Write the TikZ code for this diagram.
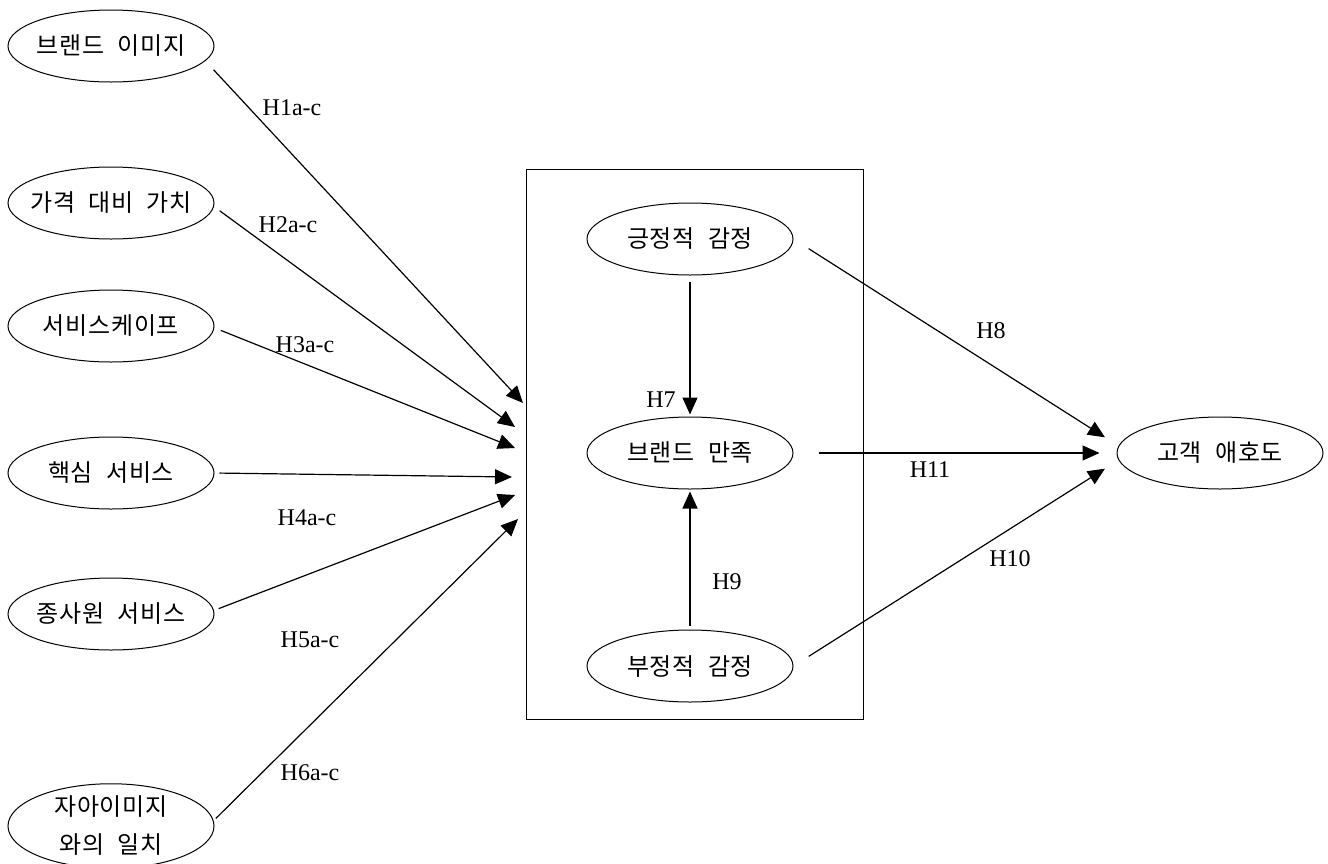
\documentclass[tikz,border=0pt]{standalone}
\usepackage{fontspec}
\setmainfont{Liberation Serif}
\newfontfamily\kr[WordSpace=2.2,LetterSpace=3]{Noto Sans CJK KR}
\usetikzlibrary{arrows.meta,shapes.geometric}
\begin{document}
\begin{tikzpicture}[x=1pt,y=-1pt,
  var/.style={ellipse,draw,line width=1pt,minimum width=206pt,minimum height=72pt,inner ysep=0pt,inner xsep=-12pt,
    font=\kr\fontsize{24}{38}\selectfont,align=center},
  arr/.style={line width=1.2pt,-{Triangle[length=17pt,width=15pt]}},
  hl/.style={font=\fontsize{24}{26}\selectfont,inner sep=0pt}]
\useasboundingbox (0,0) rectangle (1328,863);
% box
\node[draw,line width=0.8pt,minimum width=337pt,minimum height=550pt,inner sep=0pt] (box) at (694.5,444) {};
% left variables
\node[var] (a1) at (111,46) {브랜드 이미지};
\node[var] (a2) at (111,203) {가격 대비 가치};
\node[var] (a3) at (111,326) {서비스케이프};
\node[var] (a4) at (111,473) {핵심 서비스};
\node[var] (a5) at (111,614) {종사원 서비스};
\node[var] (a6) at (111,826) {자아이미지\\와의 일치};
% centre variables
\node[var] (c1) at (690,239) {긍정적 감정};
\node[var] (c2) at (690,453) {브랜드 만족};
\node[var] (c3) at (690,666) {부정적 감정};
% outcome
\node[var] (r) at (1220,453) {고객 애호도};
% arrow tips at the box
\coordinate (t1) at (523,403);
\coordinate (t2) at (515,427);
\coordinate (t3) at (515,448);
\coordinate (t4) at (512,477);
\coordinate (t5) at (515,495);
\coordinate (t6) at (518,519);
% connectors
\draw[arr,shorten <=12pt] (a1.-9) -- (t1);
\draw[arr,shorten <=7pt] (a2.-2) -- (t2);
\draw[arr,shorten <=7pt] (a3.-1) -- (t3);
\draw[arr,shorten <=5pt] (a4.east) -- (t4);
\draw[arr,shorten <=5pt] (a5.2) -- (t5);
\draw[arr,shorten <=3pt] (a6.3) -- (t6);
\draw[arr,shorten <=6pt,shorten >=2pt] (c1.south) -- (c2.north);
\draw[arr,shorten <=4pt,shorten >=2pt] (c3.north) -- (c2.south);
\draw[arr,shorten <=18pt,shorten >=16pt] (c1.east) -- (r.176);
\draw[arr,shorten <=25pt,shorten >=17pt] (c2.east) -- (r.west);
\draw[arr,shorten <=18pt,shorten >=16pt] (c3.east) -- (r.184);
% labels
\node[hl] (h1) at (292,108) {H1a-c};
\node[hl] (h2) at (288,225) {H2a-c};
\node[hl] (h3) at (305,345) {H3a-c};
\node[hl] (h4) at (307,518) {H4a-c};
\node[hl] (h5) at (310,640) {H5a-c};
\node[hl] (h6) at (310,773) {H6a-c};
\node[hl] (h7) at (661,400) {H7};
\node[hl] (h9) at (727,582) {H9};
\node[hl] (h8) at (991,331) {H8};
\node[hl] (h11) at (930,470) {H11};
\node[hl] (h10) at (1010,559) {H10};
\end{tikzpicture}
\end{document}
